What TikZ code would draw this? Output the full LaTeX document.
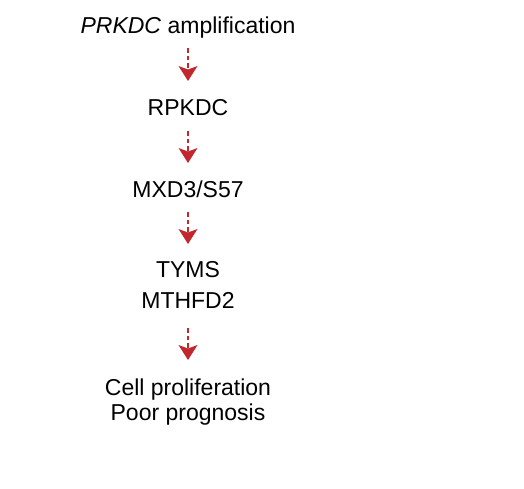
\documentclass[tikz,border=0pt]{standalone}
\usepackage{fontspec}
\setmainfont{Liberation Sans}
\usetikzlibrary{arrows.meta}
\definecolor{arrred}{HTML}{C1272D}
\begin{document}
\begin{tikzpicture}[x=1pt,y=-1pt,
  lbl/.style={inner sep=0pt,font=\fontsize{23}{28}\selectfont,anchor=base},
  flow/.style={draw=arrred,line width=1.8pt,dash pattern=on 4.5pt off 3pt,
    -{Stealth[length=15pt,width=19pt,inset=3.5pt,fill=arrred,line width=0pt,sep=0pt]}}]
\useasboundingbox (0,0) rectangle (524,488);
\node[lbl] (a) at (188,33) {\textit{PRKDC} amplification};
\node[lbl] (b) at (188,115) {RPKDC};
\node[lbl] (c) at (188,197) {MXD3/S57};
\node[lbl] (d) at (188,277) {TYMS};
\node[lbl] (d2) at (188,308) {MTHFD2};
\node[lbl] (e) at (188,395) {Cell proliferation};
\node[lbl] (e2) at (188,420) {Poor prognosis};
\coordinate (a1) at (188,48); \coordinate (a2) at (188,81);
\coordinate (b1) at (188,131); \coordinate (b2) at (188,163);
\coordinate (c1) at (188,212); \coordinate (c2) at (188,244);
\coordinate (d1) at (188,328); \coordinate (d3) at (188,360);
\draw[flow] (a1) -- (a2);
\draw[flow] (b1) -- (b2);
\draw[flow] (c1) -- (c2);
\draw[flow] (d1) -- (d3);
\end{tikzpicture}
\end{document}
